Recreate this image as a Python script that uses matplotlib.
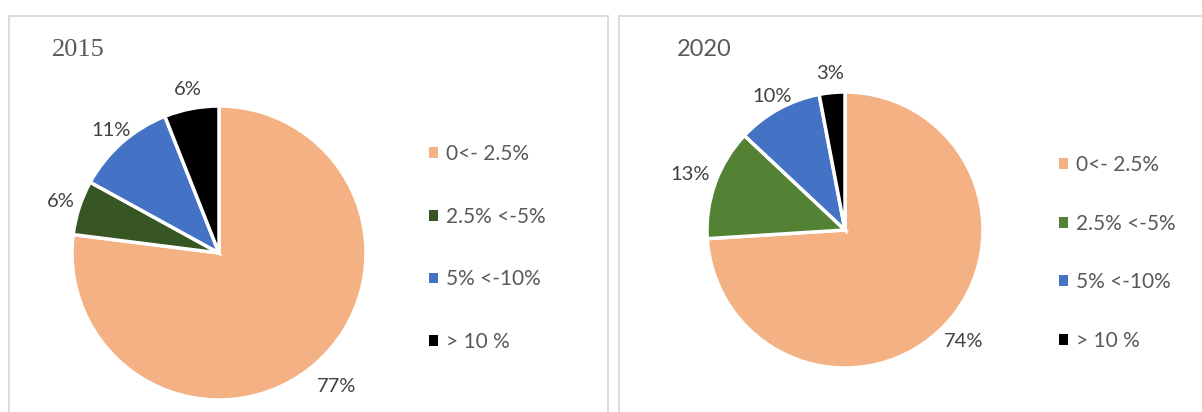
import matplotlib.pyplot as plt
from matplotlib.patches import Rectangle, Patch
import numpy as np

categories = ['0<- 2.5%', '2.5% <-5%', '5% <-10%', '> 10 %']
share_2015 = [77, 6, 11, 6]
share_2020 = [74, 13, 10, 3]

colors_2015 = ['#F4B183', '#375623', '#4472C4', '#000000']
colors_2020 = ['#F4B183', '#548235', '#4472C4', '#000000']

W, H = 1202, 412
LABEL_GREY = '#404040'
LEGEND_GREY = '#595959'
SANS = ['Lato', 'DejaVu Sans']

fig = plt.figure(figsize=(W / 100, H / 100), dpi=100)
fig.patch.set_facecolor('white')

# panel frames (open at the bottom edge of the image)
for x0, x1 in [(9, 608), (619, 1210)]:
    fig.patches.append(Rectangle((x0 / W, -0.05), (x1 - x0) / W, (H - 16) / H + 0.05,
                                 transform=fig.transFigure, fill=False,
                                 edgecolor='#D9D9D9', linewidth=1.3))


def draw_pie(cx, cy, r, values, colors, label_dist):
    ax = fig.add_axes([(cx - r) / W, (H - cy - r) / H, 2 * r / W, 2 * r / H])
    wedges, _ = ax.pie(values, colors=colors, startangle=90, counterclock=False,
                       wedgeprops=dict(edgecolor='white', linewidth=2.5))
    # percentage labels just outside each wedge
    for w, v, d in zip(wedges, values, label_dist):
        ang = np.deg2rad((w.theta1 + w.theta2) / 2)
        ax.text(d * np.cos(ang), d * np.sin(ang), f'{v}%', ha='center', va='center',
                fontsize=14.5, color=LABEL_GREY, family=SANS)
    ax.set_xlim(-1, 1)
    ax.set_ylim(-1, 1)
    ax.set_aspect('equal')
    ax.axis('off')
    return ax


draw_pie(219, 253, 147, share_2015, colors_2015, [1.21, 1.13, 1.11, 1.13])
draw_pie(845, 230, 138, share_2020, colors_2020, [1.18, 1.19, 1.10, 1.14])

fig.text(52 / W, 1 - 50 / H, '2015', ha='left', va='center', fontsize=19,
         color=LEGEND_GREY, family='Liberation Serif')
fig.text(677 / W, 1 - 50 / H, '2020', ha='left', va='center', fontsize=17,
         color=LEGEND_GREY, family=SANS)


def draw_legend(x, y, colors, spacing):
    handles = [Patch(facecolor=c, edgecolor='none') for c in colors]
    leg = fig.legend(handles, categories, loc='center left',
                     bbox_to_anchor=(x / W, 1 - y / H), frameon=False,
                     handlelength=0.42, handleheight=0.42, handletextpad=0.4,
                     labelspacing=spacing, borderaxespad=0, borderpad=0,
                     prop=dict(family=SANS, size=15))
    for t in leg.get_texts():
        t.set_color(LEGEND_GREY)


draw_legend(429, 248, colors_2015, 2.05)
draw_legend(1059, 253, colors_2020, 1.85)

fig.savefig('out.png', dpi=100, facecolor='white')
